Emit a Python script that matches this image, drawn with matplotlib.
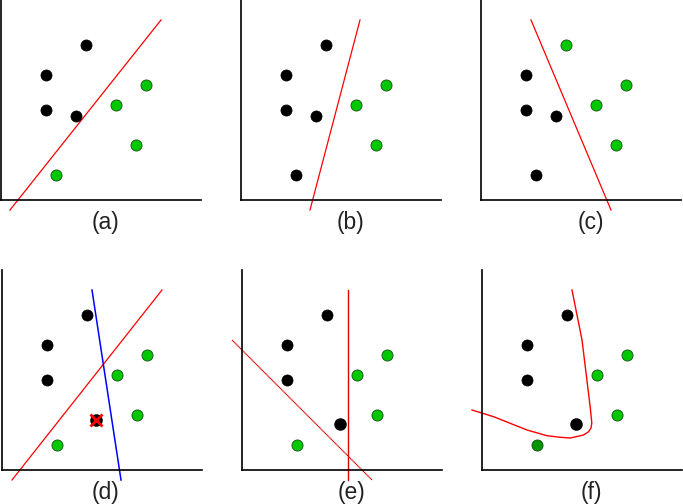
import numpy as np
import matplotlib.pyplot as plt

# points in panel units (1 unit = 10 px), y upwards from the x axis
pts_x = [8.5, 4.5, 4.5, 7.5, 11.5, 14.5, 13.5, 5.5]
pts_y = [15.5, 12.5, 9.0, 8.4, 9.5, 11.5, 5.5, 2.5]

# which class each point has in every panel ('k' black, 'g' green, '' absent)
cls_a = ['k', 'k', 'k', 'k', 'g', 'g', 'g', 'g']
cls_b = ['k', 'k', 'k', 'k', 'g', 'g', 'g', 'k']
cls_c = ['g', 'k', 'k', 'k', 'g', 'g', 'g', 'k']
cls_d = ['k', 'k', 'k', '', 'g', 'g', 'g', 'g']
cls_e = ['k', 'k', 'k', '', 'g', 'g', 'g', 'g']
cls_f = ['k', 'k', 'k', '', 'g', 'g', 'g', 'dg']

# the extra black point of the second row
extra_d = (9.4, 5.0)
extra_e = (9.8, 4.6)
extra_f = (9.4, 4.6)

# separating lines (x pairs, y pairs)
line_a = ([0.9, 16.0], [-1.0, 18.0])
line_b = ([6.9, 11.9], [-1.0, 18.0])
line_c = ([5.0, 13.0], [18.0, -1.0])
line_d_red = ([1.0, 16.0], [-1.0, 18.0])
line_d_blue = ([9.0, 11.9], [18.0, -1.0])
line_e_vert = ([10.55, 10.55], [18.0, -1.0])
line_e_diag = ([-1.0, 13.0], [13.0, -1.0])

# curved boundary of (f)
curve_x = [9.0, 9.5, 10.0, 10.43, 10.83, 10.98, 10.9, 10.66, 10.16, 8.83, 7.83, 6.5, 4.5, 1.16, -1.0]
curve_y = [18.0, 15.5, 13.0, 9.5, 6.2, 4.7, 4.2, 3.83, 3.5, 3.2, 3.27, 3.43, 4.0, 5.33, 6.0]

labels = ['(a)', '(b)', '(c)', '(d)', '(e)', '(f)']
label_x = [10.4, 11.0, 11.0, 10.35, 10.95, 10.9]

colors = {'k': 'black', 'g': '#00c800', 'dg': '#009600'}

W, H = 683, 504
fig = plt.figure(figsize=(W / 100, H / 100), dpi=100)

# panel positions in pixels: left, bottom(from top)
lefts = [1, 241, 481, 2, 242, 482]
bottoms = [200, 200, 200, 470, 470, 470]

axes = []
for i in range(6):
    ax = fig.add_axes([lefts[i] / W, (H - bottoms[i]) / H, 200 / W, 200 / H])
    ax.set_xlim(0, 20)
    ax.set_ylim(0, 20)
    ax.set_xticks([])
    ax.set_yticks([])
    for s in ['top', 'right']:
        ax.spines[s].set_visible(False)
    for s in ['left', 'bottom']:
        ax.spines[s].set_linewidth(1.2)
    ax.text(label_x[i], -2.3, labels[i], ha='center', va='center',
            fontsize=16.5, family='Liberation Sans', color='#222222', clip_on=False)
    axes.append(ax)


def draw_points(ax, cls):
    for x, y, c in zip(pts_x, pts_y, cls):
        if c == '':
            continue
        if c == 'k':
            ax.plot(x, y, 'o', color='black', ms=8, mec='black', mew=0.5, clip_on=False, zorder=3)
        else:
            ax.plot(x, y, 'o', color=colors[c], ms=8, mec='#1a4d1a', mew=0.6, clip_on=False, zorder=3)


for ax, cls in zip(axes, [cls_a, cls_b, cls_c, cls_d, cls_e, cls_f]):
    draw_points(ax, cls)

red = '#ff0000'
axes[0].plot(*line_a, color=red, lw=0.9, clip_on=False)
axes[1].plot(*line_b, color=red, lw=0.9, clip_on=False)
axes[2].plot(*line_c, color=red, lw=0.9, clip_on=False)

axes[3].plot(*line_d_red, color=red, lw=0.9, clip_on=False)
axes[3].plot(*line_d_blue, color='#0000ff', lw=1.1, clip_on=False)
axes[3].plot(*extra_d, 'o', color='black', ms=8, clip_on=False, zorder=3)
axes[3].plot(*extra_d, 'x', color=red, ms=8, mew=2, clip_on=False, zorder=4)

axes[4].plot(*line_e_vert, color='#dd0000', lw=1.0, clip_on=False)
axes[4].plot(*line_e_diag, color='#dd0000', lw=0.9, ls=(0, (1, 0.3)), clip_on=False)
axes[4].plot(*extra_e, 'o', color='black', ms=8, clip_on=False, zorder=3)

axes[5].plot(curve_x, curve_y, color=red, lw=1.0, clip_on=False)
axes[5].plot(*extra_f, 'o', color='black', ms=8, clip_on=False, zorder=3)

fig.savefig('out.png', dpi=100)
